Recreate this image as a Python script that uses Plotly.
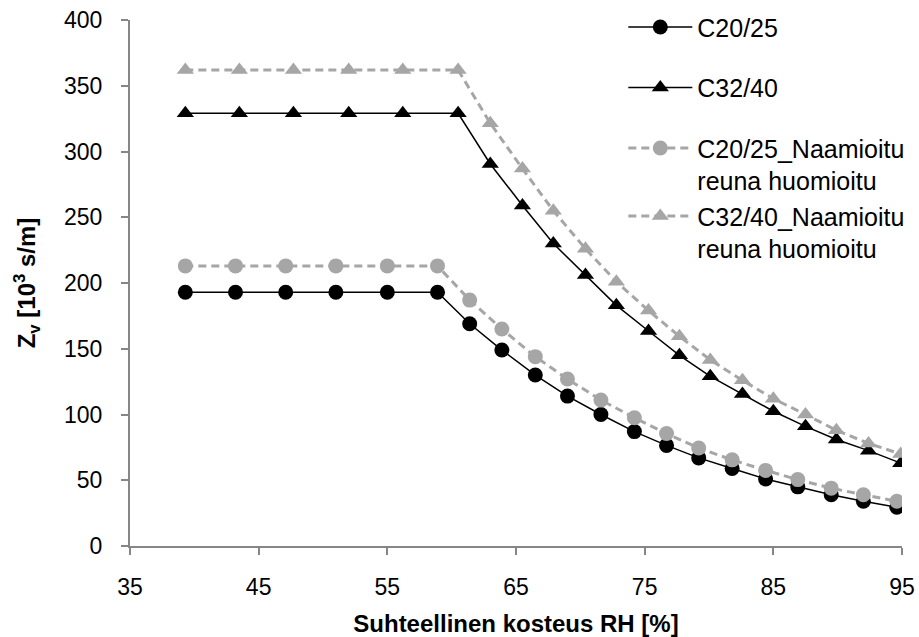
import plotly.graph_objects as go

# RH values (%)
rh_c20 = [39.3, 43.2, 47.1, 51.0, 55.0, 58.9, 61.4, 63.9, 66.5, 69.0,
          71.6, 74.2, 76.7, 79.2, 81.8, 84.4, 86.9, 89.5, 92.0, 94.6]
rh_c32 = [39.3, 43.5, 47.7, 52.0, 56.2, 60.5, 63.0, 65.5, 67.9, 70.4,
          72.8, 75.3, 77.7, 80.1, 82.6, 85.0, 87.5, 89.9, 92.4, 94.9]

zv_c20 = [193, 193, 193, 193, 193, 193, 169, 149, 130, 114,
          100, 87, 76.5, 67, 59, 51, 45, 39, 34, 29.5]
zv_c32 = [329, 329, 329, 329, 329, 329, 290.5, 259, 230, 206,
          183, 163.5, 145, 129, 115.5, 102.5, 91, 81, 72.5, 63]
zv_c20_n = [213, 213, 213, 213, 213, 213, 187, 165, 144, 127,
            111, 97.5, 85.5, 74.5, 65.5, 57.5, 50.5, 44, 39, 34]
zv_c32_n = [362, 362, 362, 362, 362, 362, 321.5, 287, 255, 226,
            201, 179, 159.5, 141.5, 126, 112, 100, 88, 78, 70]

names = ["C20/25", "C32/40", "C20/25_Naamioitu<br>reuna huomioitu",
         "C32/40_Naamioitu<br>reuna huomioitu"]

x_ticks = [35, 45, 55, 65, 75, 85, 95]
y_ticks = [0, 50, 100, 150, 200, 250, 300, 350, 400]

BLACK = "#000000"
GRAY = "#A6A6A6"
AXIS = "#868686"
FONT = "Liberation Sans, Arial, sans-serif"

fig = go.Figure()
fig.add_trace(go.Scatter(x=rh_c20, y=zv_c20, name=names[0], mode="lines+markers",
                         line=dict(color=BLACK, width=1.5),
                         marker=dict(symbol="circle", size=15, color=BLACK),
                         legendgroup="g1"))
fig.add_trace(go.Scatter(x=rh_c32, y=zv_c32, name=names[1], mode="lines+markers",
                         line=dict(color=BLACK, width=1.5),
                         marker=dict(symbol="triangle-up", size=15, color=BLACK),
                         legendgroup="g2"))
fig.add_trace(go.Scatter(x=rh_c20, y=zv_c20_n, name=names[2], mode="lines+markers",
                         line=dict(color=GRAY, width=3, dash="8px,5px"),
                         marker=dict(symbol="circle", size=15, color=GRAY),
                         legendgroup="g3"))
fig.add_trace(go.Scatter(x=rh_c32, y=zv_c32_n, name=names[3], mode="lines+markers",
                         line=dict(color=GRAY, width=3, dash="8px,5px"),
                         marker=dict(symbol="triangle-up", size=15, color=GRAY),
                         legendgroup="g3"))

fig.update_layout(
    width=919, height=637,
    margin=dict(l=130, r=17, t=20, b=91, autoexpand=False),
    paper_bgcolor="white", plot_bgcolor="white",
    font=dict(family=FONT, size=23, color="black"),
    showlegend=True,
    legend=dict(x=0.639, y=1.03, xref="paper", yref="paper", xanchor="left", yanchor="top",
                bgcolor="rgba(0,0,0,0)", font=dict(size=25, family=FONT),
                tracegroupgap=25, valign="top", itemwidth=64, traceorder="grouped"),
    xaxis=dict(range=[35, 95], tickvals=x_ticks, ticktext=[str(v) for v in x_ticks],
               showgrid=False, zeroline=False, showline=True, linecolor=AXIS, linewidth=2,
               ticks="outside", ticklen=7, tickcolor=AXIS, tickwidth=2,
               ticklabelstandoff=12,
               title=dict(text="<b>Suhteellinen kosteus RH [%]</b>", standoff=20,
                          font=dict(size=24, family=FONT))),
    yaxis=dict(range=[0, 400], tickvals=y_ticks, ticktext=[str(v) for v in y_ticks],
               showgrid=False, zeroline=False, showline=True, linecolor=AXIS, linewidth=2,
               ticks="outside", ticklen=7, tickcolor=AXIS, tickwidth=2,
               ticklabelstandoff=14,
               title=dict(text="<b>Z<sub>v</sub> [10<sup>3</sup> s/m]</b>", standoff=22,
                          font=dict(size=24, family=FONT))),
)

fig.write_html("out.html")
